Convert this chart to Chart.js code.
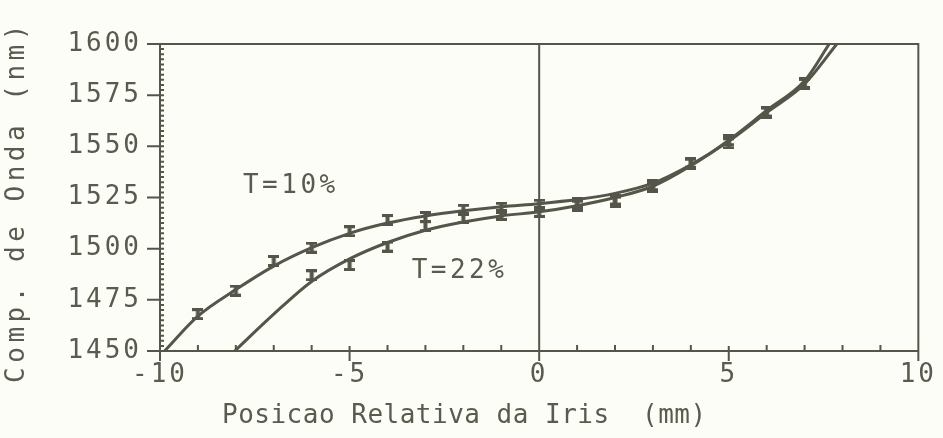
<!DOCTYPE html>
<html>
<head>
<meta charset="utf-8">
<script src="https://cdn.jsdelivr.net/npm/chart.js@4.4.1/dist/chart.umd.min.js"></script>
<style>
  html, body { margin: 0; padding: 0; background: #fdfdf8; }
  #c { display: block; }
</style>
</head>
<body>
<canvas id="c" width="943" height="438"></canvas>
<script>
// curvas ajustadas
const fit10X = [-9.88, -9, -8, -7, -6, -5, -4, -3, -2, -1, 0, 1, 2, 3, 4, 5, 6, 7, 7.85];
const fit10Y = [1450, 1467, 1480, 1491.5, 1500.5, 1507.5, 1512.5, 1516, 1518.5, 1520.5, 1522, 1524, 1527, 1532, 1541, 1552.5, 1566.5, 1580.5, 1600];
const fit22X = [-8.03, -7, -6, -5, -4, -3, -2, -1, 0, 1, 2, 3, 4, 5, 6, 7, 7.65];
const fit22Y = [1450, 1468, 1484, 1495, 1503, 1509, 1513, 1516, 1518, 1521, 1525, 1530.5, 1540.5, 1553, 1567.5, 1582, 1600];

// pontos medidos
const pts10X = [-9, -8, -7, -6, -5, -4, -3, -2, -1, 0, 1, 2, 3, 4, 5, 6, 7];
const pts10Y = [1468, 1479.5, 1494, 1500.5, 1508.5, 1514, 1515.5, 1519, 1520, 1521.5, 1522.5, 1524, 1531, 1542, 1553, 1567, 1581];
const pts22X = [-6, -5, -4, -3, -2, -1, 0, 1, 2, 3, 4, 5, 6, 7];
const pts22Y = [1487, 1492, 1501, 1511, 1515, 1516.5, 1518, 1521, 1523, 1530, 1541.5, 1551.5, 1566.5, 1580.5];

// eixos
const xRange = [-10, 10];
const yRange = [1450, 1600];
const xMajor = 5, xMinor = 1;
const yMajor = 25, yMinor = 2.5;

const xTitle = 'Posicao Relativa da Iris  (mm)';
const yTitle = 'Comp. de Onda (nm)';
const curveLabels = [
  { text: 'T=10%', x: -6.55, y: 1530.5 },
  { text: 'T=22%', x: -2.1, y: 1489 }
];

const INK = '#55554a';
const TEXT = '#5a5a4e';
const FONT = "'DejaVu Sans Mono', monospace";

// marcador tipo barra de erro
function makeBar() {
  const cv = document.createElement('canvas');
  cv.width = 11; cv.height = 12;
  const g = cv.getContext('2d');
  g.fillStyle = INK;
  g.fillRect(0, 0, 11, 3);
  g.fillRect(0, 9, 11, 3);
  g.fillRect(3.5, 0, 4, 12);
  return cv;
}
const bar = makeBar();

const toXY = (xs, ys) => xs.map((x, i) => ({ x: x, y: ys[i] }));

// moldura, ticks, titulos
const framePlugin = {
  id: 'frame',
  beforeDraw(chart) {
    chart.ctx.letterSpacing = '3px';
  },
  afterDatasetsDraw(chart) {
    const ctx = chart.ctx;
    const a = chart.chartArea;
    const xs = chart.scales.x, ys = chart.scales.y;
    ctx.save();
    ctx.strokeStyle = INK;
    ctx.lineWidth = 2;
    ctx.beginPath();
    ctx.rect(a.left, a.top, a.right - a.left, a.bottom - a.top);
    // linha vertical em x=0
    const x0 = xs.getPixelForValue(0);
    ctx.moveTo(x0, a.top);
    ctx.lineTo(x0, a.bottom);
    // ticks x
    for (let v = xRange[0]; v <= xRange[1]; v += xMinor) {
      const px = xs.getPixelForValue(v);
      if (v % xMajor === 0) {
        ctx.moveTo(px, a.bottom - 5);
        ctx.lineTo(px, a.bottom + 10);
      } else {
        ctx.moveTo(px, a.bottom);
        ctx.lineTo(px, a.bottom - 6);
      }
    }
    // ticks y
    for (let v = yRange[0]; v <= yRange[1] + 0.001; v += yMinor) {
      const py = ys.getPixelForValue(v);
      if (Math.abs(v % yMajor) < 0.001) {
        ctx.moveTo(a.left - 13, py);
        ctx.lineTo(a.left + 4, py);
      } else {
        ctx.moveTo(a.left - 1, py);
        ctx.lineTo(a.left + 4, py);
      }
    }
    ctx.stroke();

    ctx.fillStyle = TEXT;
    ctx.textBaseline = 'middle';
    ctx.textAlign = 'center';
    // rotulos das curvas
    ctx.font = '26px ' + FONT;
    ctx.letterSpacing = '3.5px';
    curveLabels.forEach(l => {
      ctx.fillText(l.text, xs.getPixelForValue(l.x), ys.getPixelForValue(l.y));
    });
    // titulo x
    ctx.letterSpacing = '0.5px';
    ctx.textAlign = 'left';
    ctx.fillText(xTitle, 222, 416);
    // titulo y
    ctx.letterSpacing = '4.5px';
    ctx.translate(17, (a.top + a.bottom) / 2 + 4);
    ctx.rotate(-Math.PI / 2);
    ctx.textAlign = 'center';
    ctx.fillText(yTitle, 0, 0);
    ctx.restore();
  }
};

new Chart(document.getElementById('c'), {
  type: 'scatter',
  data: {
    datasets: [
      {
        label: 'T=10% ajuste',
        data: toXY(fit10X, fit10Y),
        showLine: true,
        borderColor: INK,
        borderWidth: 3,
        pointRadius: 0,
        cubicInterpolationMode: 'monotone'
      },
      {
        label: 'T=22% ajuste',
        data: toXY(fit22X, fit22Y),
        showLine: true,
        borderColor: INK,
        borderWidth: 3,
        pointRadius: 0,
        cubicInterpolationMode: 'monotone'
      },
      {
        label: 'T=10%',
        data: toXY(pts10X, pts10Y),
        pointStyle: bar,
        pointRadius: 5
      },
      {
        label: 'T=22%',
        data: toXY(pts22X, pts22Y),
        pointStyle: bar,
        pointRadius: 5
      }
    ]
  },
  options: {
    responsive: false,
    animation: false,
    devicePixelRatio: 1,
    layout: { padding: { top: 44, right: 21, left: 0, bottom: 0 } },
    plugins: {
      legend: { display: false },
      tooltip: { enabled: false }
    },
    scales: {
      x: {
        type: 'linear',
        min: xRange[0],
        max: xRange[1],
        grid: { display: false, drawTicks: false },
        border: { display: false },
        ticks: {
          stepSize: xMajor,
          color: TEXT,
          font: { family: FONT, size: 26 },
          padding: 9,
          maxRotation: 0,
          callback: v => String(v)
        },
        afterFit: s => { s.height = 87; }
      },
      y: {
        type: 'linear',
        min: yRange[0],
        max: yRange[1],
        grid: { display: false, drawTicks: false },
        border: { display: false },
        ticks: {
          stepSize: yMajor,
          color: TEXT,
          font: { family: FONT, size: 26 },
          padding: 18,
          callback: v => String(v)
        },
        afterFit: s => { s.width = 160; }
      }
    }
  },
  plugins: [framePlugin]
});
</script>
</body>
</html>
